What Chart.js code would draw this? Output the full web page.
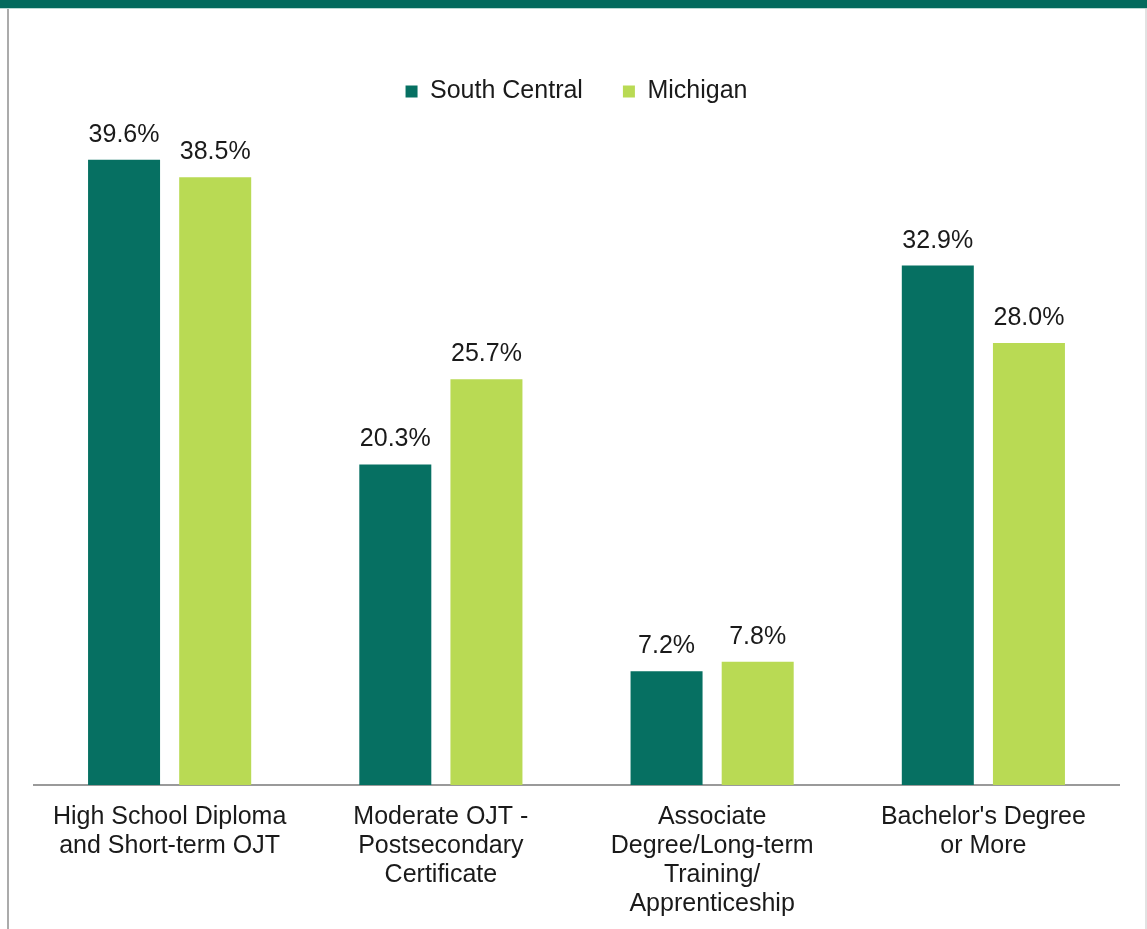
<!DOCTYPE html>
<html>
<head>
<meta charset="utf-8">
<script src="https://cdn.jsdelivr.net/npm/chart.js@4"></script>
<style>
    body { margin: 0; background: #fff; }
    #wrap { position: relative; width: 1147px; height: 929px; overflow: hidden; background: #fff; }
    #topbar { position: absolute; left: 0; top: 0; width: 1147px; height: 8px; background: #036a5d; border-bottom: 1px solid #b9d9d3; }
    #leftline { position: absolute; left: 7px; top: 9px; width: 2px; height: 920px; background: #ababab; }
    #rightline { position: absolute; left: 1145px; top: 9px; width: 2px; height: 920px; background: #e2e2e2; }
    canvas { position: absolute; left: 0; top: 0; }
</style>
</head>
<body>
<div id="wrap">
    <div id="topbar"></div>
    <div id="leftline"></div>
    <div id="rightline"></div>
    <canvas id="eduChart" width="1147" height="929"></canvas>
</div>
<script>
const categories = [
    ['High School Diploma', 'and Short-term OJT'],
    ['Moderate OJT -', 'Postsecondary', 'Certificate'],
    ['Associate', 'Degree/Long-term', 'Training/', 'Apprenticeship'],
    ["Bachelor's Degree", 'or More']
];
const southCentral = [39.6, 20.3, 7.2, 32.9];
const michigan = [38.5, 25.7, 7.8, 28.0];

const FONT = '"Liberation Sans", Arial, sans-serif';

/* ======= value labels above bars ======= */
const valueLabels = {
    id: 'valueLabels',
    afterDatasetsDraw(chart) {
        const ctx = chart.ctx;
        ctx.save();
        ctx.font = '25px ' + FONT;
        ctx.fillStyle = '#1a1a1a';
        ctx.textAlign = 'center';
        ctx.textBaseline = 'alphabetic';
        chart.data.datasets.forEach((ds, i) => {
            chart.getDatasetMeta(i).data.forEach((bar, j) => {
                ctx.fillText(ds.data[j].toFixed(1) + '%', bar.x, bar.y - 18);
            });
        });
        ctx.restore();
    }
};

const ctx = document.getElementById('eduChart').getContext('2d');
new Chart(ctx, {
    type: 'bar',
    data: {
        labels: categories,
        datasets: [
            {
                label: 'South Central',
                data: southCentral,
                backgroundColor: '#067062',
                categoryPercentage: 0.672,
                barPercentage: 0.79
            },
            {
                label: 'Michigan',
                data: michigan,
                backgroundColor: '#b9da54',
                categoryPercentage: 0.672,
                barPercentage: 0.79
            }
        ]
    },
    options: {
        responsive: false,
        animation: false,
        layout: { padding: { left: 34, right: 28, top: 39, bottom: 1 } },
        plugins: {
            legend: {
                position: 'top',
                labels: {
                    color: '#1a1a1a',
                    font: { family: FONT, size: 25 },
                    boxWidth: 12,
                    boxHeight: 12,
                    padding: 40
                }
            },
            tooltip: { enabled: false }
        },
        scales: {
            x: {
                grid: { display: false },
                border: { color: '#9a9a9a', width: 2 },
                ticks: {
                    color: '#1a1a1a',
                    font: { family: FONT, size: 25, lineHeight: 1.17 },
                    padding: 9,
                    maxRotation: 0,
                    autoSkip: false
                }
            },
            y: {
                display: false,
                min: 0,
                max: 42.5
            }
        }
    },
    plugins: [valueLabels]
});
</script>
</body>
</html>
